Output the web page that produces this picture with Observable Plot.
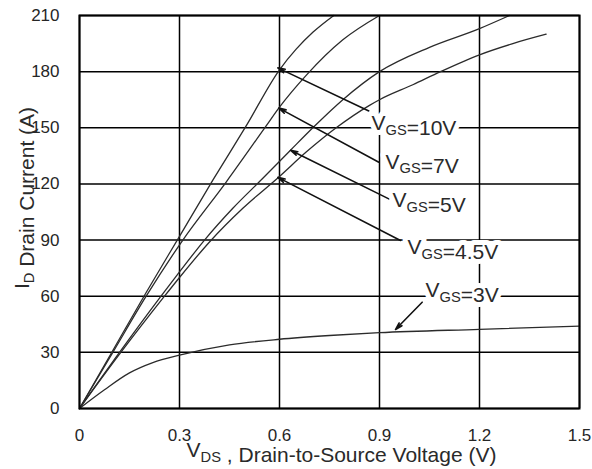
<!DOCTYPE html>
<html>
<head>
<meta charset="utf-8">
<script src="https://cdn.jsdelivr.net/npm/d3@7"></script>
<script src="https://cdn.jsdelivr.net/npm/@observablehq/plot@0.6"></script>
<style>
  html, body { margin: 0; padding: 0; background: #fff; }
  #chart svg { display: block; }
</style>
</head>
<body>
<div id="chart"></div>
<script>
// Output characteristics: drain current vs drain-to-source voltage, one curve per gate voltage
const xTicks = [0, 0.3, 0.6, 0.9, 1.2, 1.5];
const yTicks = [0, 30, 60, 90, 120, 150, 180, 210];

const vds10 = [0, 0.1, 0.2, 0.3, 0.4, 0.5, 0.6, 0.65, 0.7, 0.763];
const id10  = [0, 31, 62, 92, 122, 151, 181, 192, 201, 210];

const vds7 = [0, 0.1, 0.2, 0.31, 0.44, 0.56, 0.6, 0.68, 0.79, 0.9];
const id7  = [0, 30, 60, 90, 121, 151, 161, 178, 197, 210];

const vds5 = [0, 0.12, 0.24, 0.3, 0.375, 0.46, 0.55, 0.633, 0.7, 0.79, 0.9, 1.05, 1.2, 1.29];
const id5  = [0, 30, 59, 73, 90, 107, 123, 138, 150, 165, 180, 193, 203, 210];

const vds45 = [0, 0.12, 0.255, 0.3, 0.39, 0.49, 0.6, 0.68, 0.77, 0.87, 0.9, 1.0, 1.083, 1.2, 1.3, 1.4];
const id45  = [0, 29, 60, 70, 89, 107, 124, 137, 150, 162, 165, 173, 180, 189, 195, 200];

const vds3 = [0, 0.075, 0.15, 0.22, 0.3, 0.45, 0.6, 0.75, 0.9, 1.2, 1.5];
const id3  = [0, 10, 19, 24.5, 28.5, 34, 37, 39, 40.5, 42.3, 44];

// Gate-voltage callouts: label anchor, arrow tail and arrow tip (in V, A)
const calloutText = ["V_{GS}=10V", "V_{GS}=7V", "V_{GS}=5V", "V_{GS}=4.5V", "V_{GS}=3V"];
const calloutX    = [0.876, 0.918, 0.939, 0.984, 1.038];
const calloutY    = [152.3, 131.7, 111.1, 86, 63];
const arrowFromX  = [0.868, 0.898, 0.928, 0.963, 1.028];
const arrowFromY  = [159, 131.6, 112, 89.8, 56.8];
const arrowToX    = [0.595, 0.598, 0.633, 0.595, 0.948];
const arrowToY    = [182, 160.5, 138, 123.5, 42.2];

const xTitle = "V_{DS} , Drain-to-Source Voltage (V)";
const yTitle = "I_{D} Drain Current (A)";

const series = [
  ["10V", vds10, id10],
  ["7V", vds7, id7],
  ["5V", vds5, id5],
  ["4.5V", vds45, id45],
  ["3V", vds3, id3]
];
const curves = series.flatMap(([vgs, xs, ys]) => xs.map((v, i) => ({vgs, vds: v, id: ys[i]})));
const callouts = calloutText.map((t, i) => ({
  t, x: calloutX[i], y: calloutY[i],
  x1: arrowFromX[i], y1: arrowFromY[i], x2: arrowToX[i], y2: arrowToY[i]
}));

const FONT = "'Liberation Sans', Arial, Helvetica, sans-serif";
const labelOpts = {x: "x", y: "y", text: "t", textAnchor: "start", lineAnchor: "middle", fontSize: 21};

const chart = Plot.plot({
  width: 592,
  height: 469,
  marginLeft: 79,
  marginRight: 13,
  marginTop: 15,
  marginBottom: 61,
  style: {fontFamily: FONT, fontSize: "17px", color: "#262626", background: "#fff"},
  x: {domain: [0, 1.5], ticks: xTicks, tickSize: 0, tickPadding: 20, tickFormat: d => `${d}`, label: null},
  y: {domain: [0, 210], ticks: yTicks, tickSize: 0, tickPadding: 20, tickFormat: d => `${d}`, label: null},
  marks: [
    Plot.ruleX(xTicks, {stroke: "#000", strokeWidth: 1.5}),
    Plot.ruleY(yTicks, {stroke: "#000", strokeWidth: 1.5}),
    Plot.line(curves, {x: "vds", y: "id", z: "vgs", stroke: "#2b2b2b", strokeWidth: 1.3, curve: "monotone-x"}),
    Plot.arrow(callouts, {x1: "x1", y1: "y1", x2: "x2", y2: "y2", stroke: "#111", strokeWidth: 1.6, headLength: 7, headAngle: 30}),
    // white backing behind each callout, then the callout text itself
    Plot.text(callouts, {...labelOpts, fill: "#fff", stroke: "#fff", strokeWidth: 10}),
    Plot.text(callouts, {...labelOpts, fill: "#2a2a2a"}),
    Plot.frame({stroke: "#000", strokeWidth: 2}),
    Plot.text([xTitle], {frameAnchor: "bottom", text: d => d, dx: 12, dy: 42, textAnchor: "middle",
      lineAnchor: "middle", fontSize: 21, fill: "#2a2a2a"}),
    Plot.text([yTitle], {frameAnchor: "left", text: d => d, dx: -57, dy: -14, rotate: -90, textAnchor: "middle",
      lineAnchor: "middle", fontSize: 21, fill: "#2a2a2a"})
  ]
});

document.getElementById("chart").appendChild(chart);

// Turn "X_{sub}" runs into subscript tspans
const SVGNS = "http://www.w3.org/2000/svg";
chart.querySelectorAll("text").forEach(textEl => {
  const leaves = textEl.querySelector("tspan") ? [...textEl.querySelectorAll("tspan")] : [textEl];
  leaves.forEach(el => {
    const s = el.textContent;
    if (!s.includes("_{")) return;
    const size = parseFloat(getComputedStyle(el).fontSize) || 17;
    const subSize = size * 0.7;
    const shift = size * 0.22;
    el.textContent = "";
    s.split(/(_\{[^}]*\})/).forEach(part => {
      if (!part) return;
      const ts = document.createElementNS(SVGNS, "tspan");
      if (part.startsWith("_{")) {
        ts.textContent = part.slice(2, -1);
        ts.setAttribute("font-size", subSize);
        ts.setAttribute("dy", shift);
        el.appendChild(ts);
        const back = document.createElementNS(SVGNS, "tspan");
        back.setAttribute("dy", -shift);
        back.textContent = "";
        el.appendChild(back);
      } else {
        ts.textContent = part;
        el.appendChild(ts);
      }
    });
  });
});
</script>
</body>
</html>
